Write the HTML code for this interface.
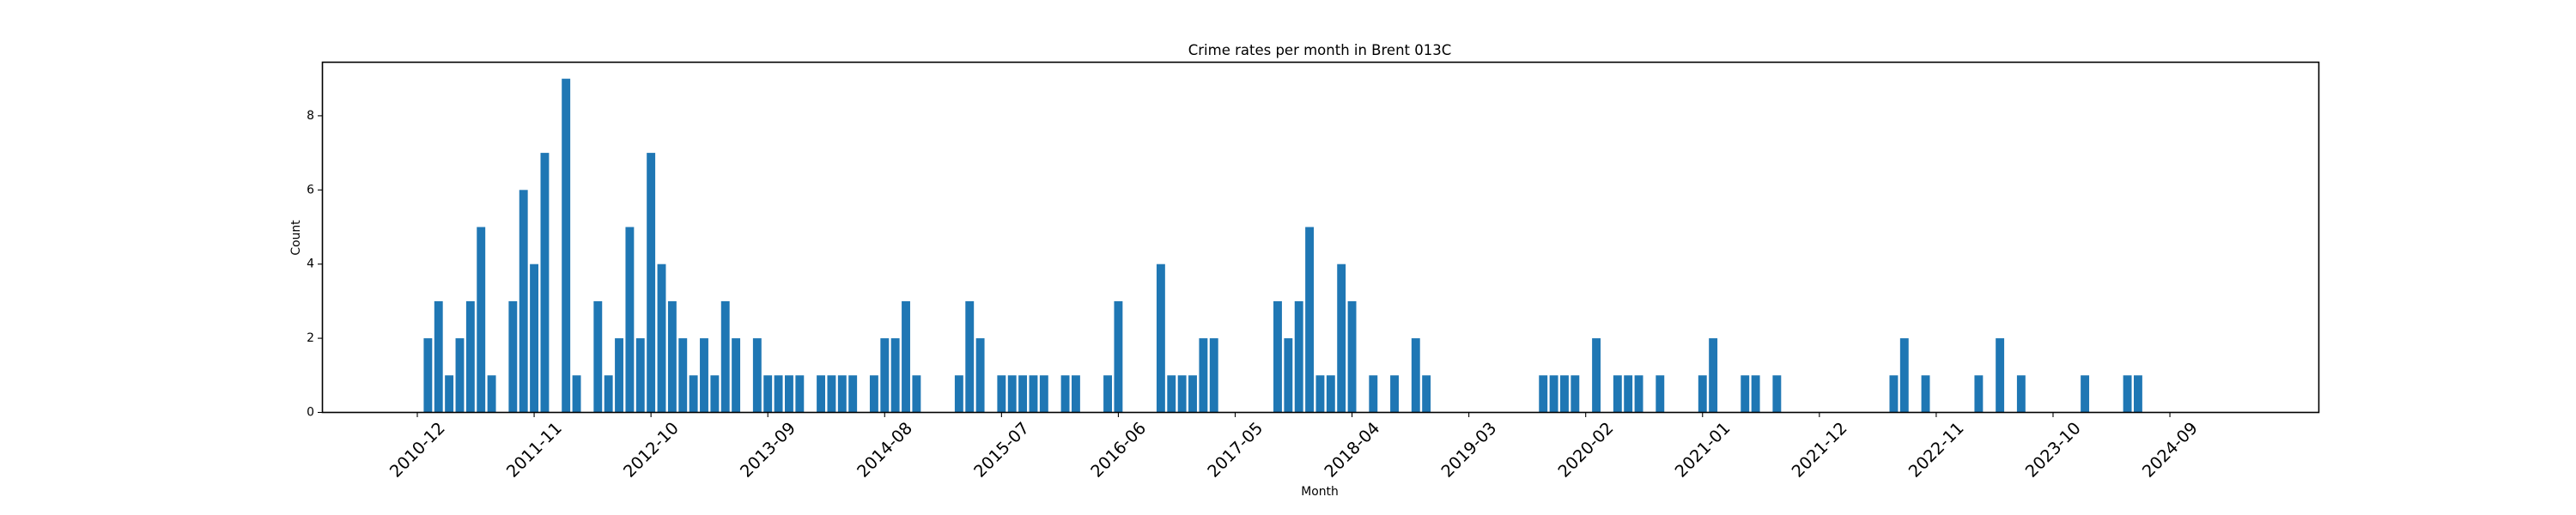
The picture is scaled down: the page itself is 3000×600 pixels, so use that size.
<!DOCTYPE html>
<html><head><meta charset="utf-8"><style>
html,body{margin:0;padding:0;background:#fff;}
svg{display:block;font-family:"DejaVu Sans","Liberation Sans",sans-serif;}
</style></head><body>
<svg id="chart" width="3000" height="600" viewBox="0 0 3000 600" xmlns="http://www.w3.org/2000/svg">
<rect width="3000" height="600" fill="#fff"/>
<text x="1537" y="64" font-size="16.5" text-anchor="middle" fill="#000">Crime rates per month in Brent 013C</text>
<g id="bars"></g>
<g id="xaxis"></g>
<g id="yaxis"></g>
<rect x="375.5" y="72.5" width="2325" height="408" fill="none" stroke="#000" stroke-width="1.6"/>
<text x="1537" y="577" font-size="13.9" text-anchor="middle" fill="#000">Month</text>
<text x="0" y="0" font-size="13.9" text-anchor="middle" transform="translate(349,277) rotate(-90)" fill="#000">Count</text>
</svg>
<script>
// month index 0 = 2010-12
const monthIndex = [1,2,3,4,5,6,7,9,10,11,12,14,15,17,18,19,20,21,22,23,24,25,26,27,28,29,30,32,33,34,35,36,38,39,40,41,43,44,45,46,47,51,52,53,55,56,57,58,59,61,62,65,66,70,71,72,73,74,75,81,82,83,84,85,86,87,88,90,92,94,95,106,107,108,109,111,113,114,115,117,121,122,125,126,128,139,140,142,147,149,151,157,161,162];
const counts = [2,3,1,2,3,5,1,3,6,4,7,9,1,3,1,2,5,2,7,4,3,2,1,2,1,3,2,2,1,1,1,1,1,1,1,1,1,2,2,3,1,1,3,2,1,1,1,1,1,1,1,1,3,4,1,1,1,2,2,3,2,3,5,1,1,4,3,1,1,2,1,1,1,1,1,2,1,1,1,1,1,2,1,1,1,1,2,1,1,2,1,1,1,1];
const tickLabels = ["2010-12","2011-11","2012-10","2013-09","2014-08","2015-07","2016-06","2017-05","2018-04","2019-03","2020-02","2021-01","2021-12","2022-11","2023-10","2024-09"];
const tickMonths = [0,11,22,33,44,55,66,77,88,99,110,121,132,143,154,165];
const yTicks = [0,2,4,6,8];

const NS = "http://www.w3.org/2000/svg";
const X0 = 486, MW = 12.37, Y0 = 480.5, YU = 43.2;
function xScale(m){ return X0 + m*MW; }
function yScale(v){ return Y0 - v*YU; }

const bars = document.getElementById('bars');
monthIndex.forEach((m,i)=>{
  const r = document.createElementNS(NS,'rect');
  
  
  const w = MW*0.8;
  r.setAttribute('x', xScale(m)-w/2);
  r.setAttribute('y', yScale(counts[i]));
  r.setAttribute('width', w);
  r.setAttribute('height', Y0 - yScale(counts[i]));
  r.setAttribute('fill', '#1f77b4');
  bars.appendChild(r);
});

const xa = document.getElementById('xaxis');
tickLabels.forEach((lab,i)=>{
  const x = xScale(tickMonths[i]);
  const t = document.createElementNS(NS,'line');
  
  
  t.setAttribute('x1', x); t.setAttribute('x2', x);
  t.setAttribute('y1', 481); t.setAttribute('y2', 486);
  t.setAttribute('stroke', '#000'); t.setAttribute('stroke-width', '1.1');
  xa.appendChild(t);
  const tx = document.createElementNS(NS,'text');
  
  
  tx.setAttribute('x', 0); tx.setAttribute('y', 0);
  tx.setAttribute('font-size', '19.4');
  tx.setAttribute('text-anchor', 'middle');
  tx.setAttribute('dominant-baseline', 'central');
  tx.setAttribute('transform', 'translate(' + x + ',524) rotate(-45)');
  tx.textContent = lab;
  xa.appendChild(tx);
});

const ya = document.getElementById('yaxis');
yTicks.forEach(v=>{
  const y = yScale(v);
  const t = document.createElementNS(NS,'line');
  
  
  t.setAttribute('x1', 370); t.setAttribute('x2', 375);
  t.setAttribute('y1', y); t.setAttribute('y2', y);
  t.setAttribute('stroke', '#000'); t.setAttribute('stroke-width', '1.1');
  ya.appendChild(t);
  const tx = document.createElementNS(NS,'text');
  
  
  tx.setAttribute('x', 366); tx.setAttribute('y', y);
  tx.setAttribute('font-size', '13.9');
  tx.setAttribute('text-anchor', 'end');
  tx.setAttribute('dominant-baseline', 'central');
  tx.textContent = v;
  ya.appendChild(tx);
});
</script>
</body></html>
